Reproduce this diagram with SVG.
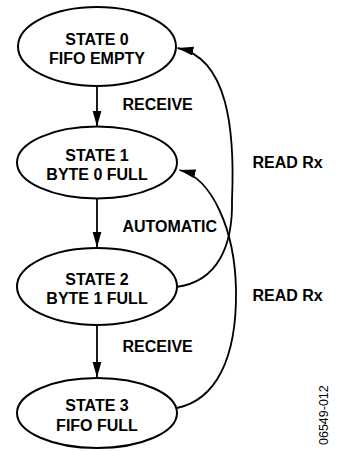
<svg xmlns="http://www.w3.org/2000/svg" width="338" height="451" viewBox="0 0 338 451">
<style>
.node ellipse{fill:#fff;stroke:#000;stroke-width:2}
.node text,.lbl{font-family:"Liberation Sans",Arial,sans-serif;font-weight:bold;font-size:16px;fill:#000}
.node text{text-anchor:middle}
.conn path,.conn line{fill:none;stroke:#000;stroke-width:1.8}
.id{font-family:"Liberation Sans",Arial,sans-serif;font-size:12.5px;fill:#000}
</style>
<defs>
<marker id="ah" markerUnits="userSpaceOnUse" markerWidth="17" markerHeight="10" refX="16" refY="4.5" orient="auto">
<path d="M0,0 L16,4.5 L0,9 Z" fill="#000"/>
</marker>
</defs>
<rect width="338" height="451" fill="#fff"/>
<g class="conn">
<line x1="97" y1="86" x2="97" y2="126.5" marker-end="url(#ah)"/>
<line x1="97" y1="198.5" x2="97" y2="247.5" marker-end="url(#ah)"/>
<line x1="97" y1="325" x2="97" y2="377.5" marker-end="url(#ah)"/>
<path d="M176,287 C218,282 233,245 232,200 C235,130 228,58 177.5,48" marker-end="url(#ah)"/>
<path d="M177,408 C215,400 237,360 236,290 C235,230 212,178 179.5,170" marker-end="url(#ah)"/>
</g>
<g id="s0" class="node">
<ellipse cx="97" cy="46.5" rx="79" ry="39.5"/>
<text x="97" y="44.5">STATE 0</text>
<text x="97" y="63.5">FIFO EMPTY</text>
</g>
<g id="s1" class="node">
<ellipse cx="97" cy="162.5" rx="80" ry="36"/>
<text x="97" y="160.5">STATE 1</text>
<text x="97" y="180">BYTE 0 FULL</text>
</g>
<g id="s2" class="node">
<ellipse cx="97" cy="286.5" rx="80" ry="38.5"/>
<text x="97" y="284.5">STATE 2</text>
<text x="97" y="304">BYTE 1 FULL</text>
</g>
<g id="s3" class="node">
<ellipse cx="97" cy="413" rx="80" ry="35"/>
<text x="97" y="411">STATE 3</text>
<text x="97" y="430.5">FIFO FULL</text>
</g>
<g id="labels">
<text class="lbl" x="122.5" y="110">RECEIVE</text>
<text class="lbl" x="252.5" y="168">READ Rx</text>
<text class="lbl" x="122.5" y="231.5">AUTOMATIC</text>
<text class="lbl" x="252.5" y="301">READ Rx</text>
<text class="lbl" x="122.5" y="352">RECEIVE</text>
<text class="id" transform="translate(328,445) rotate(-90)">06549-012</text>
</g>
</svg>
